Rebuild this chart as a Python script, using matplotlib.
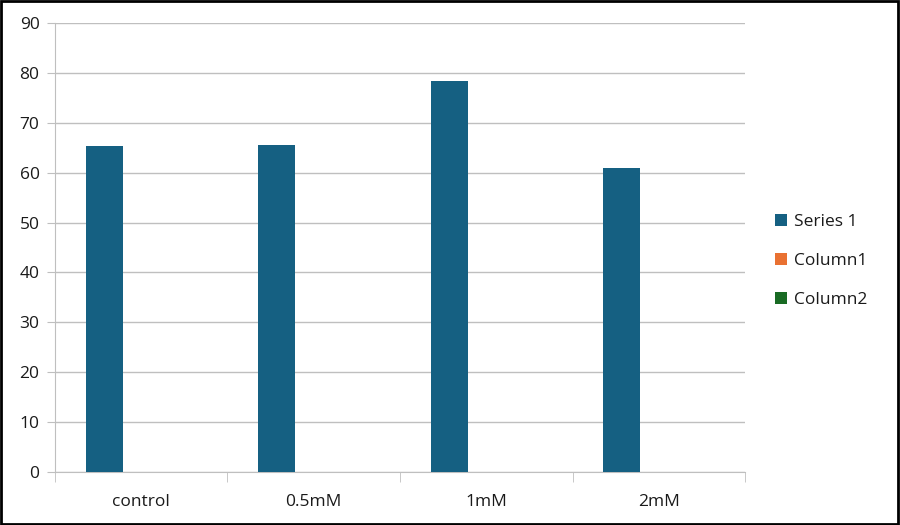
import matplotlib
matplotlib.use("Agg")
import matplotlib.pyplot as plt
import matplotlib.patches as mpatches
import numpy as np

plt.rcParams['font.family'] = ['Open Sans', 'DejaVu Sans']

# data
categories = ["control", "0.5mM", "1mM", "2mM"]
series_1 = [65.4, 65.6, 78.4, 60.9]
column1 = [0, 0, 0, 0]
column2 = [0, 0, 0, 0]
series_names = ["Series 1", "Column1", "Column2"]
colors = ["#156082", "#E97132", "#196B24"]

fig = plt.figure(figsize=(9, 5.25), dpi=100, facecolor="white")
ax = fig.add_axes([0.061, 0.101, 0.767, 0.855])

x = np.arange(len(categories))
w = 0.215
for i, (vals, name, c) in enumerate(zip([series_1, column1, column2], series_names, colors)):
    ax.bar(x + (i - 1) * w, vals, width=w, color=c, label=name, zorder=3)

ax.set_xlim(-0.5, len(categories) - 0.5)
ax.set_ylim(0, 90)
ax.set_yticks(np.arange(0, 91, 10))
ax.set_xticks(x)
ax.set_xticklabels(categories)
ax.set_xticks(np.arange(-0.5, len(categories), 1), minor=True)

ax.grid(axis="y", color="#BFBFBF", linewidth=1, zorder=0)
for s in ["top", "right"]:
    ax.spines[s].set_visible(False)
ax.spines["left"].set_color("#BFBFBF")
ax.spines["bottom"].set_color("#BFBFBF")

ax.tick_params(axis="x", which="major", length=0, pad=16, labelsize=12.5, labelcolor="#1a1a1a")
ax.tick_params(axis="x", which="minor", length=7, color="#BFBFBF", direction="out")
ax.tick_params(axis="y", length=6, color="#BFBFBF", pad=5, labelsize=12.5, labelcolor="#1a1a1a")

ax.legend(loc="center left", bbox_to_anchor=(1.02, 0.47), frameon=False,
          fontsize=12.5, labelspacing=1.3, handlelength=0.7, handleheight=0.7,
          handletextpad=0.4, labelcolor="#1a1a1a")

# outer border
fig.add_artist(mpatches.Rectangle((0.001, 0.002), 0.997, 0.996, transform=fig.transFigure,
                                  fill=False, edgecolor="black", linewidth=2))

fig.savefig("out.png", dpi=100, facecolor="white")
